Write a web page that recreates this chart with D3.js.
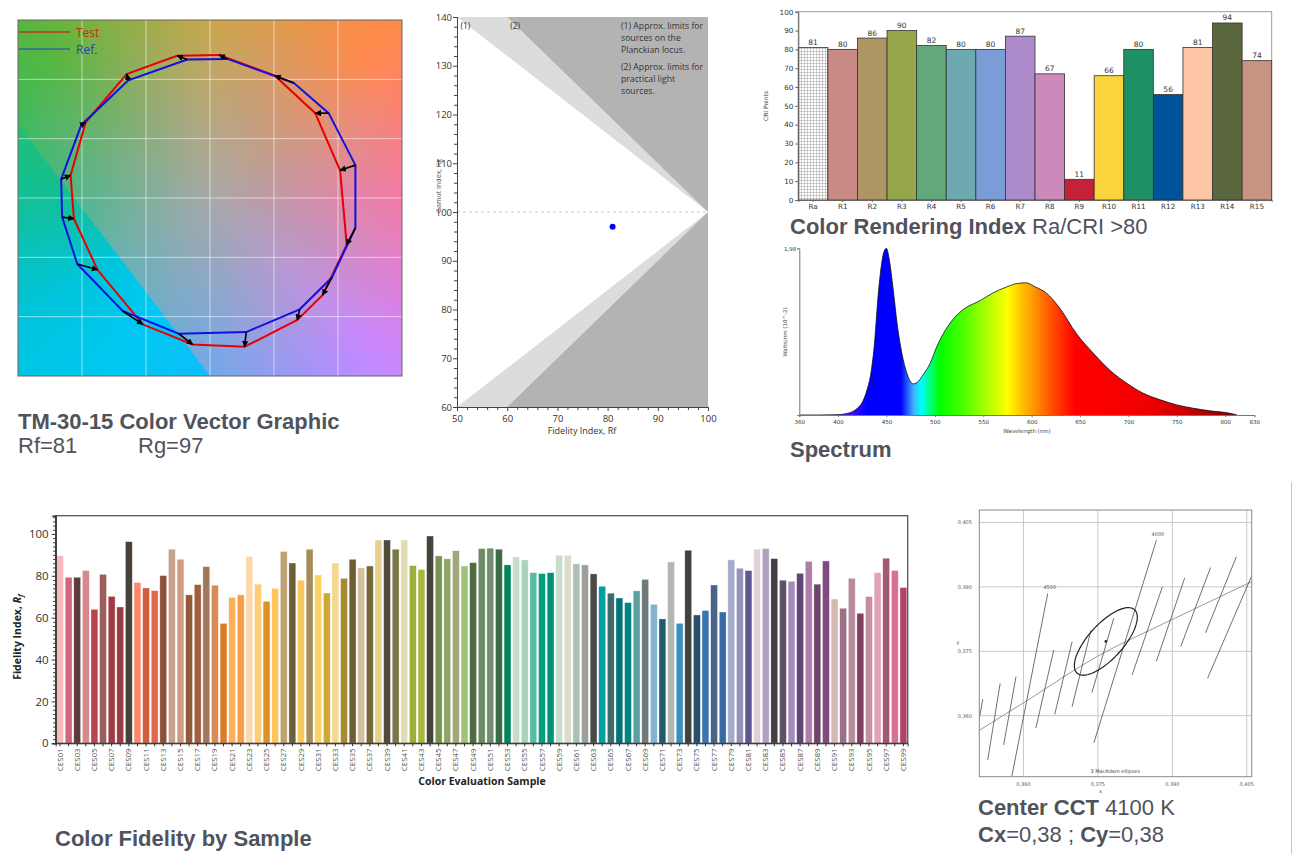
<!DOCTYPE html>
<html>
<head>
<meta charset="utf8">
<script src="https://d3js.org/d3.v7.min.js"></script>
<style>
  body { margin: 0; background: #fff; }
  .title { font-family: "Liberation Sans", Arial, sans-serif; font-size: 22px; fill: #50525c; }
  .sans { font-family: "Open Sans", sans-serif; }
  .djv { font-family: "DejaVu Sans", sans-serif; }
</style>
</head>
<body>
<svg id="chart" width="1308" height="854"></svg>
<script>
// ---------- data ----------
// TM-30 vector graphic (16 hue bins, normalised a'/b')
var cvgRefX = [-0.178, 0.136, 0.656, 0.927, 1.136, 1.136, 0.953, 0.701, 0.283, -0.244, -0.682, -1.037, -1.155, -1.163, -1.005, -0.638];
var cvgRefY = [1.167, 1.172, 0.969, 0.715, 0.277, -0.251, -0.669, -0.938, -1.130, -1.144, -0.952, -0.556, -0.161, 0.158, 0.616, 0.992];
var cvgTestX = [-0.257, 0.071, 0.507, 0.822, 1.016, 1.068, 0.879, 0.682, 0.270, -0.136, -0.525, -0.879, -1.063, -1.089, -0.971, -0.651];
var cvgTestY = [1.198, 1.206, 1.031, 0.715, 0.234, -0.395, -0.819, -1.028, -1.254, -1.234, -1.065, -0.605, -0.175, 0.192, 0.638, 1.045];
var cvgGrid = [-1, -0.5, 0, 0.5, 1];

// Rf / Rg chart
var rfSource = 81, rgSource = 97;
var limitPlanck = [[50, 140], [100, 100], [50, 60]];
var limitPractical = [[50, 140], [60, 140], [100, 100], [60, 60], [50, 60]];

// CRI
var criNames = ['Ra', 'R1', 'R2', 'R3', 'R4', 'R5', 'R6', 'R7', 'R8', 'R9', 'R10', 'R11', 'R12', 'R13', 'R14', 'R15'];
var criValues = [81, 80, 86, 90, 82, 80, 80, 87, 67, 11, 66, 80, 56, 81, 94, 74];
var criColors = [null, '#c98a85', '#ae9564', '#96a74b', '#62a97a', '#6ea8b1', '#7b9dd5', '#ad8bcb', '#cc89bb', '#c4223b',
  '#fbd43d', '#1f8f64', '#00529b', '#fec5a6', '#5b673d', '#c99381'];

// spectrum
var specWl = [360, 380, 400, 410, 415, 420, 425, 430, 434, 437, 442, 447, 450, 453, 457, 461, 466, 471, 476, 478, 483, 488, 495, 502, 509, 517, 529, 547, 560, 574, 584, 594, 604, 615, 629, 646, 664, 681, 698, 715, 733, 750, 767, 784, 805, 812];
var specVal = [0, 0, 0.004, 0.02, 0.04, 0.08, 0.15, 0.3, 0.5, 0.77, 1.49, 1.92, 1.98, 1.84, 1.49, 1.09, 0.73, 0.5, 0.38, 0.37, 0.40, 0.48, 0.61, 0.81, 0.97, 1.11, 1.25, 1.36, 1.45, 1.52, 1.56, 1.57, 1.52, 1.45, 1.27, 0.97, 0.73, 0.53, 0.38, 0.26, 0.18, 0.12, 0.08, 0.05, 0.02, 0];
var specTicks = [360, 400, 450, 500, 550, 600, 650, 700, 750, 800, 830];
var gradWl = [380, 410, 430, 465, 478, 486, 495, 505, 530, 555, 575, 590, 605, 625, 645, 720, 780, 810];
var gradColor = ['#8a40ff', '#5010ff', '#0000ff', '#0000ff', '#40b0ff', '#00ffff', '#00ff80', '#00ff00', '#50ff00', '#b0ff00', '#ffff00', '#ffc000', '#ff8c00', '#ff4000', '#ff0000', '#f00000', '#b00000', '#800000'];

// colour fidelity by sample (CES01..CES99)
var cesValues = [89.6, 79.3, 79.3, 82.5, 64.0, 80.7, 70.2, 65.1, 96.3, 76.8, 74.2, 72.9, 80.1, 92.7, 87.9, 70.9, 75.8, 84.4, 75.5, 57.3,
  69.7, 70.9, 89.3, 76.0, 67.8, 74.0, 91.6, 86.1, 77.9, 92.7, 80.4, 71.8, 86.1, 78.8, 87.9, 83.8, 84.7, 97.1, 97.1, 92.7,
  97.1, 84.9, 83.0, 99.0, 89.5, 88.1, 92.0, 84.7, 86.3, 93.0, 93.2, 92.7, 85.2, 89.0, 87.6, 81.5, 81.1, 81.5, 89.8, 89.8,
  85.7, 85.2, 80.9, 75.0, 71.7, 69.4, 67.2, 72.8, 78.3, 66.4, 59.4, 86.6, 57.3, 92.2, 61.3, 63.4, 75.6, 62.7, 87.6, 83.6,
  82.5, 92.7, 93.0, 88.2, 77.9, 77.4, 81.2, 86.9, 76.0, 87.1, 68.9, 64.5, 78.8, 62.1, 70.1, 81.5, 88.4, 82.5, 74.4];
var cesColors = ['#f8b8bc', '#d26678', '#5c3a3e', '#d8878b', '#b8444f', '#9b5e5b', '#a03a44', '#963c42', '#47403b', '#fd8768',
  '#d05e40', '#e2684a', '#8a503a', '#c8a290', '#d49a80', '#945a3c', '#a0603c', '#a27658', '#da8c56', '#dc7c2a',
  '#fdb05c', '#f99c48', '#fdd8a8', '#ffcc78', '#d89226', '#fec460', '#bea272', '#6e5e3a', '#fac860', '#a68c5a',
  '#fad264', '#d0a834', '#f4d890', '#a88a30', '#6e5e38', '#d4c09c', '#776838', '#e2d08c', '#4f4a3a', '#7a7648',
  '#e2dcb6', '#9cae3c', '#a6b63e', '#46423c', '#789250', '#90a466', '#a2a87a', '#9ec47a', '#506c3e', '#6e8a64',
  '#728c6e', '#3a6c48', '#00845a', '#c4e0c8', '#aad2ba', '#56be9e', '#00a07c', '#00927a', '#c4e0cc', '#dcdccc',
  '#aac0b6', '#9ca098', '#4a4a48', '#00a0a0', '#3e6a6a', '#007478', '#008484', '#5c9ea2', '#6e7a7a', '#80b4d0',
  '#245a6e', '#b4b6b4', '#3a90bc', '#444240', '#25506c', '#3874b0', '#4a6488', '#3a68a2', '#a4accb', '#9690bc',
  '#5e5890', '#e0d0d8', '#b0a0c0', '#443e44', '#5e5264', '#a68cbc', '#604678', '#b07ca8', '#6e4468', '#804c7e',
  '#d2bab2', '#9c7088', '#b88c9c', '#804060', '#c88ca0', '#e0a2b6', '#a05a74', '#d8708e', '#b04466'];

// CCT chart (CIE x, y)
var cctTicks = [0.360, 0.375, 0.390, 0.405];
var locusX = [0.3511, 0.360, 0.375, 0.390, 0.406];
var locusY = [0.3566, 0.3630, 0.3739, 0.3824, 0.3912];
var isoX1 = [0.3518, 0.3553, 0.3585, 0.3649, 0.3661, 0.3698, 0.3736, 0.3782, 0.3868, 0.3880, 0.3925, 0.3977, 0.4029, 0.4062];
var isoY1 = [0.3638, 0.3675, 0.3691, 0.3885, 0.3753, 0.3772, 0.3799, 0.3827, 0.4009, 0.3900, 0.3921, 0.3945, 0.3970, 0.3931];
var isoX2 = [0.3511, 0.3528, 0.3560, 0.3575, 0.3625, 0.3663, 0.3698, 0.3738, 0.3742, 0.3819, 0.3868, 0.3917, 0.3967, 0.3971];
var isoY2 = [0.3594, 0.3497, 0.3532, 0.3450, 0.3571, 0.3603, 0.3621, 0.3654, 0.3537, 0.3695, 0.3727, 0.3761, 0.3793, 0.3687];
var ellipseCx = 0.3766, ellipseCy = 0.3773, ellipseA = 0.0094, ellipseB = 0.0037, ellipseTheta = 53.4;

// ---------- drawing ----------
var chart = d3.select('#chart');
var defs = chart.append('defs');
var comma = d3.formatLocale({ decimal: ',', thousands: '.', grouping: [3], currency: ['', ''] });

function styleAxis(g, color, size, family) {
  g.selectAll('.domain').attr('stroke', color);
  g.selectAll('.tick line').attr('stroke', color);
  g.selectAll('.tick text').attr('fill', '#333').attr('font-size', size).attr('font-family', family);
}

// ===== TM-30 colour vector graphic =====
var cx = d3.scaleLinear().domain([-1.5, 1.5]).range([18, 402]);
var cy = d3.scaleLinear().domain([-1.5, 1.5]).range([376, 20]);
var hueOuter = d3.scaleLinear()
  .domain([0, 45, 90, 135, 180, 225, 270, 315, 360])
  .range(['#ff74a8', '#ff8a4c', '#d0a640', '#58b640', '#18c078', '#30b8c8', '#6aa8f4', '#c888ff', '#ff74a8'])
  .interpolate(d3.interpolateRgb);
var hueInner = d3.scaleLinear()
  .domain([150, 185, 215, 245, 275])
  .range(['#20c068', '#10c0a0', '#00c4dc', '#00c8f4', '#10bcf8'])
  .interpolate(d3.interpolateRgb);

var bgW = 384, bgH = 356;
var canvas = document.createElement('canvas');
canvas.width = bgW;
canvas.height = bgH;
var ctx = canvas.getContext('2d');
var img = ctx.createImageData(bgW, bgH);
for (var j = 0; j < bgH; j++) {
  for (var i = 0; i < bgW; i++) {
    var dx = cx.invert(18 + i + 0.5), dy = cy.invert(20 + j + 0.5);
    var ang = (Math.atan2(dy, dx) * 180 / Math.PI + 360) % 360;
    var r = Math.sqrt(dx * dx + dy * dy);
    var below = dy < 0.62 - 1.413 * (dx + 1.5);
    var c;
    if (below) {
      c = d3.rgb(hueInner(Math.max(150, Math.min(275, ang))));
    } else {
      c = d3.rgb(d3.interpolateRgb('#a8a8a8', hueOuter(ang))(Math.min(1, r / 1.7)));
    }
    var k = (j * bgW + i) * 4;
    img.data[k] = c.r; img.data[k + 1] = c.g; img.data[k + 2] = c.b; img.data[k + 3] = 255;
  }
}
ctx.putImageData(img, 0, 0);

var cvg = chart.append('g');
cvg.append('image')
  .attr('x', 18).attr('y', 20).attr('width', bgW).attr('height', bgH)
  .attr('href', canvas.toDataURL());
cvg.selectAll('.vgrid').data(cvgGrid).enter().append('line')
  .attr('x1', (d) => cx(d)).attr('x2', (d) => cx(d)).attr('y1', 20).attr('y2', 376)
  .attr('stroke', '#fff').attr('stroke-opacity', 0.55).attr('stroke-width', 1);
cvg.selectAll('.hgrid').data(cvgGrid).enter().append('line')
  .attr('y1', (d) => cy(d)).attr('y2', (d) => cy(d)).attr('x1', 18).attr('x2', 402)
  .attr('stroke', '#fff').attr('stroke-opacity', 0.55).attr('stroke-width', 1);
cvg.append('rect').attr('x', 18).attr('y', 20).attr('width', 384).attr('height', 356)
  .attr('fill', 'none').attr('stroke', '#666').attr('stroke-width', 1);

var polyLine = d3.line().curve(d3.curveLinearClosed);
var refPts = cvgRefX.map((d, i) => [cx(d), cy(cvgRefY[i])]);
var testPts = cvgTestX.map((d, i) => [cx(d), cy(cvgTestY[i])]);
cvg.append('path').attr('d', polyLine(testPts)).attr('fill', 'none').attr('stroke', '#e80000').attr('stroke-width', 2);
cvg.append('path').attr('d', polyLine(refPts)).attr('fill', 'none').attr('stroke', '#1010e0').attr('stroke-width', 2);

defs.append('marker')
  .attr('id', 'arrow').attr('viewBox', '0 0 10 10').attr('refX', 9).attr('refY', 5)
  .attr('markerWidth', 4).attr('markerHeight', 4).attr('orient', 'auto')
  .append('path').attr('d', 'M0,0L10,5L0,10z').attr('fill', '#000');
cvg.selectAll('.arrow').data(refPts).enter().append('line')
  .attr('x1', (d) => d[0]).attr('y1', (d) => d[1])
  .attr('x2', (d, i) => testPts[i][0]).attr('y2', (d, i) => testPts[i][1])
  .attr('stroke', '#000').attr('stroke-width', 1.6).attr('marker-end', 'url(#arrow)');

cvg.append('line').attr('x1', 19).attr('x2', 70).attr('y1', 32).attr('y2', 32).attr('stroke', '#e00000').attr('stroke-width', 1.2);
cvg.append('line').attr('x1', 19).attr('x2', 70).attr('y1', 49).attr('y2', 49).attr('stroke', '#2040c0').attr('stroke-width', 1.2);
cvg.append('text').attr('class', 'sans').attr('x', 76).attr('y', 37).attr('font-size', 12).attr('fill', '#d02a10').text('Test');
cvg.append('text').attr('class', 'sans').attr('x', 76).attr('y', 54).attr('font-size', 12).attr('fill', '#2a40c0').text('Ref.');

chart.append('text').attr('class', 'title').attr('x', 18).attr('y', 429).attr('font-weight', 'bold').text('TM-30-15 Color Vector Graphic');
chart.append('text').attr('class', 'title').attr('x', 18).attr('y', 453).text('Rf=81');
chart.append('text').attr('class', 'title').attr('x', 138).attr('y', 453).text('Rg=97');

// ===== Rf / Rg =====
var fx = d3.scaleLinear().domain([50, 100]).range([457, 708]);
var fy = d3.scaleLinear().domain([60, 140]).range([407, 17]);
var rfg = chart.append('g');
rfg.append('rect').attr('x', fx(50)).attr('y', fy(140)).attr('width', fx(100) - fx(50)).attr('height', fy(60) - fy(140)).attr('fill', '#b3b3b3');
var areaPoly = d3.line().x((d) => fx(d[0])).y((d) => fy(d[1])).curve(d3.curveLinearClosed);
rfg.append('path').attr('d', areaPoly(limitPractical)).attr('fill', '#dcdcdc');
rfg.append('path').attr('d', areaPoly(limitPlanck)).attr('fill', '#fff');
rfg.append('line').attr('x1', fx(50)).attr('x2', fx(100)).attr('y1', fy(100)).attr('y2', fy(100))
  .attr('stroke', '#c8c8c8').attr('stroke-dasharray', '3,3');
rfg.append('circle').attr('cx', fx(rfSource)).attr('cy', fy(rgSource)).attr('r', 3).attr('fill', '#0000ff');

// y title, cut at the panel edge as in the reference
defs.append('clipPath').attr('id', 'rgClip').append('rect').attr('x', 436.5).attr('y', 0).attr('width', 30).attr('height', 440);
rfg.append('g').attr('clip-path', 'url(#rgClip)')
  .append('text').attr('class', 'sans')
  .attr('transform', 'translate(441,186) rotate(-90)').attr('text-anchor', 'middle')
  .attr('font-size', 7).attr('fill', '#555').text('Gamut Index, Rg');

var rfMinor = d3.range(50, 101, 2).filter((d) => d % 10);
var rgMinor = d3.range(60, 141, 2).filter((d) => d % 10);
rfg.append('g').attr('transform', 'translate(0,' + fy(60) + ')')
  .call(d3.axisBottom(fx).tickValues(rfMinor).tickSize(3).tickFormat(''))
  .call((g) => styleAxis(g, '#444', 9, 'Open Sans'));
rfg.append('g').attr('transform', 'translate(0,' + fy(60) + ')')
  .call(d3.axisBottom(fx).tickValues(d3.range(50, 101, 10)).tickSize(4).tickPadding(4))
  .call((g) => styleAxis(g, '#444', 9.5, 'Open Sans'));
rfg.append('g').attr('transform', 'translate(' + fx(50) + ',0)')
  .call(d3.axisLeft(fy).tickValues(rgMinor).tickSize(3).tickFormat(''))
  .call((g) => styleAxis(g, '#444', 9, 'Open Sans'));
rfg.append('g').attr('transform', 'translate(' + fx(50) + ',0)')
  .call(d3.axisLeft(fy).tickValues(d3.range(60, 141, 10)).tickSize(4).tickPadding(1))
  .call((g) => styleAxis(g, '#444', 9.5, 'Open Sans'));

rfg.append('text').attr('class', 'sans').attr('x', 582).attr('y', 434).attr('text-anchor', 'middle')
  .attr('font-size', 9).attr('fill', '#333').text('Fidelity Index, Rf');
rfg.append('text').attr('class', 'sans').attr('x', fx(50.7)).attr('y', 29).attr('font-size', 8.5).attr('fill', '#333').text('(1)');
rfg.append('text').attr('class', 'sans').attr('x', fx(60.6)).attr('y', 29).attr('font-size', 8.5).attr('fill', '#333').text('(2)');
var notes = ['(1) Approx. limits for', 'sources on the', 'Planckian locus.', '', '(2) Approx. limits for', 'practical light', 'sources.'];
var noteY = [29, 41, 53, 0, 70, 82, 94];
notes.forEach(function (n, i) {
  if (n) rfg.append('text').attr('class', 'sans').attr('x', 621).attr('y', noteY[i]).attr('font-size', 8.7).attr('fill', '#333').text(n);
});

// ===== CRI bars =====
var bx = d3.scaleBand().domain(criNames).range([798.3, 1271.7]).padding(0);
var by = d3.scaleLinear().domain([0, 100]).range([200, 11.7]);
var cri = chart.append('g');
var pat = defs.append('pattern').attr('id', 'dots')
  .attr('patternUnits', 'userSpaceOnUse').attr('width', 3).attr('height', 3);
pat.append('rect').attr('width', 3).attr('height', 3).attr('fill', '#fff');
pat.append('path').attr('d', 'M0,0.5H3M0.5,0V3').attr('stroke', '#b8b8b8').attr('stroke-width', 0.7);
cri.append('rect').attr('x', 798.3).attr('y', 11.7).attr('width', 1271.7 - 798.3).attr('height', 200 - 11.7)
  .attr('fill', 'none').attr('stroke', '#9a9a9a');
cri.selectAll('.bar').data(criValues).enter().append('rect')
  .attr('x', (d, i) => bx(criNames[i])).attr('width', bx.bandwidth())
  .attr('y', (d) => by(d)).attr('height', (d) => by(0) - by(d))
  .attr('fill', (d, i) => i === 0 ? 'url(#dots)' : criColors[i])
  .attr('stroke', '#333').attr('stroke-width', 0.8);
cri.selectAll('.val').data(criValues).enter().append('text').attr('class', 'djv')
  .attr('x', (d, i) => bx(criNames[i]) + bx.bandwidth() / 2).attr('y', (d) => by(d) - 2.5)
  .attr('text-anchor', 'middle').attr('font-size', 7.5).attr('fill', '#333').text((d) => d);
cri.append('g').attr('transform', 'translate(798.3,0)')
  .call(d3.axisLeft(by).tickValues(d3.range(0, 101, 10)).tickSize(3).tickPadding(2))
  .call((g) => styleAxis(g, '#666', 7.2, 'DejaVu Sans'));
cri.append('g').attr('transform', 'translate(0,200)')
  .call(d3.axisBottom(bx).tickSize(2).tickPadding(2))
  .call((g) => styleAxis(g, '#666', 7.2, 'DejaVu Sans'));
cri.append('text').attr('class', 'djv').attr('transform', 'translate(768,106) rotate(-90)').attr('text-anchor', 'middle')
  .attr('font-size', 6).attr('fill', '#444').text('CRI Points');
var t3 = chart.append('text').attr('class', 'title').attr('x', 790).attr('y', 234);
t3.append('tspan').attr('font-weight', 'bold').text('Color Rendering Index ');
t3.append('tspan').text('Ra/CRI >80');

// ===== Spectrum =====
var sx = d3.scaleLinear().domain([360, 830]).range([799.3, 1254.3]);
var sy = d3.scaleLinear().domain([0, 1.98]).range([415, 248.3]);
var grad = defs.append('linearGradient').attr('id', 'specGrad')
  .attr('gradientUnits', 'userSpaceOnUse').attr('x1', sx(360)).attr('x2', sx(830)).attr('y1', 0).attr('y2', 0);
gradWl.forEach(function (w, i) {
  grad.append('stop').attr('offset', (w - 360) / 470).attr('stop-color', gradColor[i]);
});
var spec = chart.append('g');
var specData = specWl.map((w, i) => [w, specVal[i]]);
spec.append('path').datum(specData)
  .attr('d', d3.area().x((d) => sx(d[0])).y0(sy(0)).y1((d) => sy(d[1])).curve(d3.curveMonotoneX))
  .attr('fill', 'url(#specGrad)');
spec.append('path').datum(specData)
  .attr('d', d3.line().x((d) => sx(d[0])).y((d) => sy(d[1])).curve(d3.curveMonotoneX))
  .attr('fill', 'none').attr('stroke', '#111').attr('stroke-width', 0.8);
spec.append('g').attr('transform', 'translate(0,415)')
  .call(d3.axisBottom(sx).tickValues(specTicks).tickSize(2).tickPadding(3))
  .call((g) => styleAxis(g, '#777', 5.5, 'DejaVu Sans'));
spec.append('g').attr('transform', 'translate(799.3,0)')
  .call(d3.axisLeft(sy).tickValues([1.98]).tickSize(2).tickPadding(1).tickFormat(comma.format('.2f')))
  .call((g) => styleAxis(g, '#777', 5.5, 'DejaVu Sans'));
spec.append('text').attr('class', 'djv').attr('x', 1027).attr('y', 433).attr('text-anchor', 'middle')
  .attr('font-size', 5.5).attr('fill', '#444').text('Wavelength (nm)');
spec.append('text').attr('class', 'djv').attr('transform', 'translate(787,332) rotate(-90)').attr('text-anchor', 'middle')
  .attr('font-size', 5.5).attr('fill', '#444').text('Watts/nm (10^-2)');
chart.append('text').attr('class', 'title').attr('x', 790).attr('y', 457).attr('font-weight', 'bold').text('Spectrum');

// ===== Colour fidelity by sample =====
var cesNames = d3.range(1, 100).map((i) => 'CES' + (i < 10 ? '0' + i : i));
var gx = d3.scaleBand().domain(cesNames).range([55.7, 907.7]).paddingInner(0.2).paddingOuter(0.1);
var gy = d3.scaleLinear().domain([0, 108.7]).range([743.3, 515.7]);
var fid = chart.append('g');
fid.selectAll('.bar').data(cesValues).enter().append('rect')
  .attr('x', (d, i) => gx(cesNames[i])).attr('width', gx.bandwidth())
  .attr('y', (d) => gy(d)).attr('height', (d) => gy(0) - gy(d))
  .attr('fill', (d, i) => cesColors[i])
  .attr('stroke', '#fff').attr('stroke-opacity', 0.6).attr('stroke-width', 0.6);
fid.append('rect').attr('x', 55.7).attr('y', 515.7).attr('width', 852).attr('height', 743.3 - 515.7)
  .attr('fill', 'none').attr('stroke', '#555').attr('stroke-width', 1.3);
fid.append('g').attr('transform', 'translate(55.7,0)')
  .call(d3.axisLeft(gy).tickValues(d3.range(0, 109, 2).filter((d) => d % 20)).tickSize(2.5).tickFormat(''))
  .call((g) => styleAxis(g, '#333', 11, 'Open Sans'));
fid.append('g').attr('transform', 'translate(55.7,0)')
  .call(d3.axisLeft(gy).tickValues(d3.range(0, 101, 20)).tickSize(4).tickPadding(3))
  .call((g) => styleAxis(g, '#333', 11.5, 'Open Sans'));
var gxAxis = fid.append('g').attr('transform', 'translate(0,743.3)')
  .call(d3.axisBottom(gx).tickSize(3).tickFormat((d, i) => i % 2 === 0 ? d : ''))
  .call((g) => styleAxis(g, '#333', 8, 'Open Sans'));
gxAxis.selectAll('.tick text').attr('transform', 'rotate(-90)').attr('text-anchor', 'end')
  .attr('x', -5).attr('y', 0).attr('dy', '0.32em').attr('fill', '#555');
fid.append('text').attr('class', 'sans').attr('x', 482).attr('y', 785).attr('text-anchor', 'middle')
  .attr('font-size', 10.5).attr('font-weight', 'bold').attr('fill', '#222').text('Color Evaluation Sample');
var fl = fid.append('text').attr('class', 'sans').attr('transform', 'translate(21,637) rotate(-90)').attr('text-anchor', 'middle')
  .attr('font-size', 10.5).attr('font-weight', 'bold').attr('fill', '#222');
fl.append('tspan').text('Fidelity Index, ');
fl.append('tspan').attr('font-style', 'italic').text('R');
fl.append('tspan').attr('font-style', 'italic').attr('font-size', 7.5).attr('dy', 2).text('f');
chart.append('text').attr('class', 'title').attr('x', 55).attr('y', 846).attr('font-weight', 'bold').text('Color Fidelity by Sample');

// ===== CCT / MacAdam =====
var kx = d3.scaleLinear().domain([0.3511, 0.406]).range([979.3, 1251.7]);
var ky = d3.scaleLinear().domain([0.3458, 0.4079]).range([776.7, 510]);
var cct = chart.append('g');
defs.append('clipPath').attr('id', 'cctClip').append('rect')
  .attr('x', 979.3).attr('y', 510).attr('width', 1251.7 - 979.3).attr('height', 776.7 - 510);
cct.selectAll('.kv').data(cctTicks).enter().append('line')
  .attr('x1', (d) => kx(d)).attr('x2', (d) => kx(d)).attr('y1', 510).attr('y2', 776.7)
  .attr('stroke', '#c8c8c8').attr('stroke-width', 1);
cct.selectAll('.kh').data(cctTicks).enter().append('line')
  .attr('y1', (d) => ky(d)).attr('y2', (d) => ky(d)).attr('x1', 979.3).attr('x2', 1251.7)
  .attr('stroke', '#c8c8c8').attr('stroke-width', 1);
var inner = cct.append('g').attr('clip-path', 'url(#cctClip)');
inner.append('path').datum(locusX.map((d, i) => [d, locusY[i]]))
  .attr('d', d3.line().x((d) => kx(d[0])).y((d) => ky(d[1])).curve(d3.curveMonotoneX))
  .attr('fill', 'none').attr('stroke', '#999').attr('stroke-width', 1);
inner.selectAll('.iso').data(isoX1).enter().append('line')
  .attr('x1', (d) => kx(d)).attr('y1', (d, i) => ky(isoY1[i]))
  .attr('x2', (d, i) => kx(isoX2[i])).attr('y2', (d, i) => ky(isoY2[i]))
  .attr('stroke', '#333').attr('stroke-width', 0.7);
var th = ellipseTheta * Math.PI / 180;
var ellPts = d3.range(0, 361, 4).map(function (a) {
  var t = a * Math.PI / 180;
  var ex = ellipseA * Math.cos(t), ey = ellipseB * Math.sin(t);
  return [ellipseCx + ex * Math.cos(th) - ey * Math.sin(th), ellipseCy + ex * Math.sin(th) + ey * Math.cos(th)];
});
inner.append('path').datum(ellPts)
  .attr('d', d3.line().x((d) => kx(d[0])).y((d) => ky(d[1])).curve(d3.curveLinearClosed))
  .attr('fill', 'none').attr('stroke', '#222').attr('stroke-width', 1.2);
inner.append('circle').attr('cx', kx(ellipseCx)).attr('cy', ky(ellipseCy)).attr('r', 1.3).attr('fill', '#222');
cct.append('rect').attr('x', 979.3).attr('y', 510).attr('width', 1251.7 - 979.3).attr('height', 776.7 - 510)
  .attr('fill', 'none').attr('stroke', '#8a8a8a');
cct.selectAll('.kxl').data(cctTicks).enter().append('text').attr('class', 'djv')
  .attr('x', (d) => kx(d)).attr('y', 786).attr('text-anchor', 'middle').attr('font-size', 5).attr('fill', '#555')
  .text((d) => comma.format('.3f')(d));
cct.selectAll('.kyl').data(cctTicks).enter().append('text').attr('class', 'djv')
  .attr('x', 972).attr('y', (d) => ky(d) + 2).attr('text-anchor', 'end').attr('font-size', 5).attr('fill', '#555')
  .text((d) => comma.format('.3f')(d));
cct.append('text').attr('class', 'djv').attr('x', kx(0.3755)).attr('y', 793).attr('text-anchor', 'middle').attr('font-size', 5).attr('fill', '#555').text('x');
cct.append('text').attr('class', 'djv').attr('x', 958).attr('y', 644).attr('text-anchor', 'middle').attr('font-size', 5).attr('fill', '#555').text('y');
cct.append('text').attr('class', 'djv').attr('x', kx(0.3653)).attr('y', ky(0.3895)).attr('text-anchor', 'middle').attr('font-size', 5).attr('fill', '#555').text('4500');
cct.append('text').attr('class', 'djv').attr('x', kx(0.3871)).attr('y', ky(0.4019)).attr('text-anchor', 'middle').attr('font-size', 5).attr('fill', '#555').text('4000');
cct.append('text').attr('class', 'djv').attr('x', kx(0.3785)).attr('y', 773).attr('text-anchor', 'middle').attr('font-size', 5).attr('fill', '#444').text('3  MacAdam ellipses');
var t6 = chart.append('text').attr('class', 'title').attr('x', 978).attr('y', 815);
t6.append('tspan').attr('font-weight', 'bold').text('Center CCT ');
t6.append('tspan').text('4100 K');
var t7 = chart.append('text').attr('class', 'title').attr('x', 978).attr('y', 842);
t7.append('tspan').attr('font-weight', 'bold').text('Cx');
t7.append('tspan').text('=0,38 ; ');
t7.append('tspan').attr('font-weight', 'bold').text('Cy');
t7.append('tspan').text('=0,38');

// thin panel edge at the right of the lower row
chart.append('line').attr('x1', 1291.5).attr('x2', 1291.5).attr('y1', 482).attr('y2', 854)
  .attr('stroke', '#c8c8c8').attr('stroke-width', 1);
</script>
</body>
</html>
